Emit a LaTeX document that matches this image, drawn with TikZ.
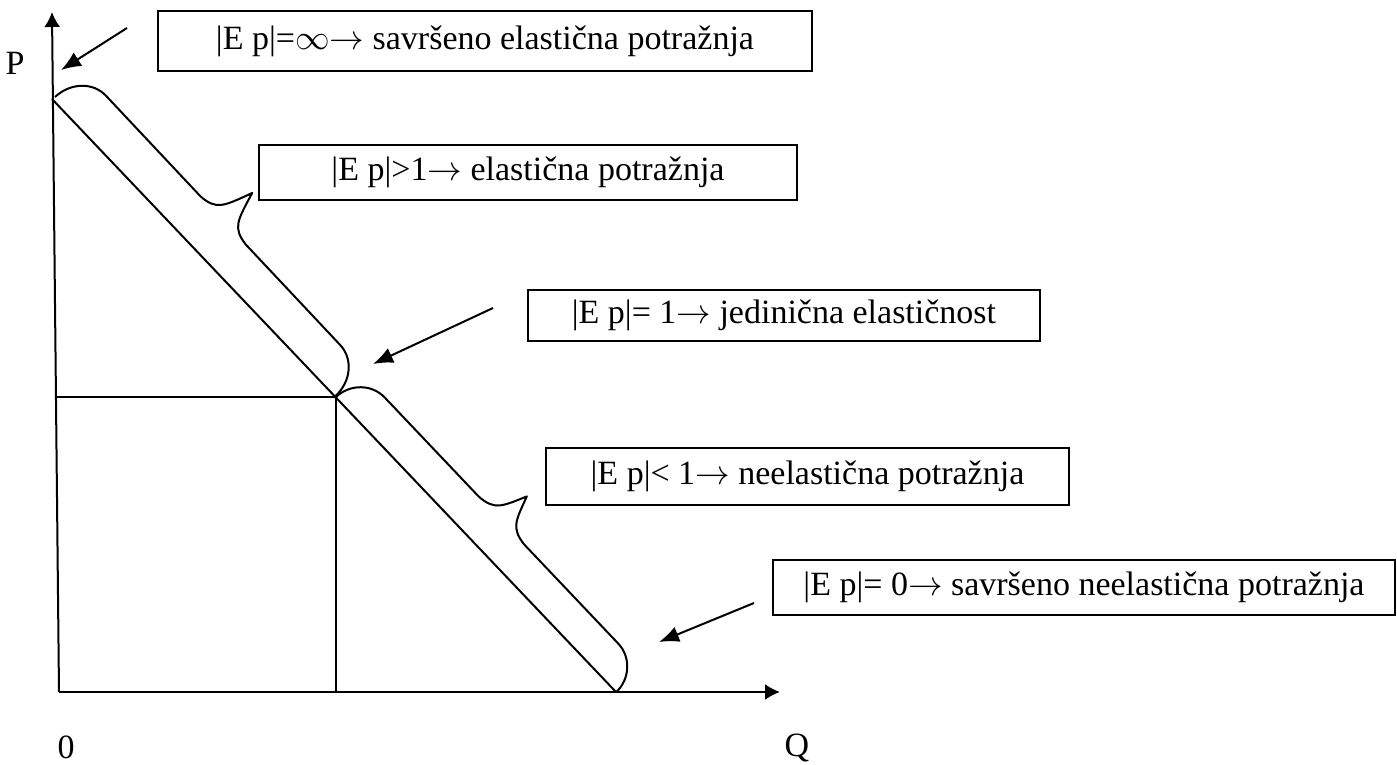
\documentclass[tikz,border=0pt]{standalone}
\usepackage{fontspec}
\setmainfont{Liberation Serif}
\usetikzlibrary{arrows.meta}
\newcommand{\myarr}{$\rightarrow$}
\newcommand{\myinf}{$\infty$}
\begin{document}
\begin{tikzpicture}[x=0.5pt,y=-0.5pt,line width=1pt,
  box/.style={draw,line width=1.2pt,inner sep=0pt,font=\fontsize{17pt}{20pt}\selectfont},
  lbl/.style={inner sep=0pt,font=\fontsize{17pt}{20pt}\selectfont},
  arr/.style={-{Latex[length=10pt,width=8pt]}},
  axis/.style={-{Latex[length=7.5pt,width=8pt]}},
  bracepath/.style={line width=1pt,line join=round}]
\useasboundingbox (0,0) rectangle (1397,765);

% axes
\coordinate (O) at (59,692);
\coordinate (Ytop) at (52,12);
\coordinate (Xend) at (780,692);
\draw[axis] (O) -- (Ytop);
\draw[axis] (O) -- (Xend);

% demand line and projections
\coordinate (D1) at (52,99);
\coordinate (D2) at (616,692);
\coordinate (E) at (336,397);
\coordinate (Ey) at (56,397);
\coordinate (Ex) at (336,692);
\draw (D1) -- (D2);
\draw (Ey) -- (E) -- (Ex);

% labels
\node[lbl] (P) at (15,63) {P};
\node[lbl] (zero) at (66,747) {0};
\node[lbl] (Q) at (797,748) {Q};

% boxes
\node[box,minimum width=327pt,minimum height=30pt] (b1) at (485,41) {|E p|=\myinf\myarr{} savršeno elastična potražnja};
\node[box,minimum width=269pt,minimum height=27.5pt] (b2) at (528,172.5) {|E p|>1\myarr{} elastična potražnja};
\node[box,minimum width=256pt,minimum height=25.5pt] (b3) at (784,315.5) {|E p|= 1\myarr{} jedinična elastičnost};
\node[box,minimum width=261.5pt,minimum height=28.5pt] (b4) at (807.5,476.5) {|E p|< 1\myarr{} neelastična potražnja};
\node[box,minimum width=311pt,minimum height=27.5pt] (b5) at (1084,587.5) {|E p|= 0\myarr{} savršeno neelastična potražnja};

% arrows
\coordinate (a1s) at (127,28); \coordinate (a1e) at (61,70);
\coordinate (a2s) at (493,308); \coordinate (a2e) at (373,364);
\coordinate (a3s) at (754,603); \coordinate (a3e) at (659,642);
\draw[arr] (a1s) -- (a1e);
\draw[arr] (a2s) -- (a2e);
\draw[arr] (a3s) -- (a3e);

% upper brace
\begin{scope}[shift={(55,97)},rotate=-46.78]
\draw[bracepath] (0,0) .. controls (0,-21) and (15,-38) .. (34,-38) -- (172,-38)
  .. controls (193,-40) and (195,-48) .. (205,-78)
  .. controls (215,-48) and (217,-40) .. (238,-38) -- (376,-38)
  .. controls (395,-38) and (410,-21) .. (410,0);
\end{scope}

% lower brace
\begin{scope}[shift={(336,397)},rotate=-46.5]
\draw[bracepath] (0,0) .. controls (0,-19) and (15,-35) .. (34,-35) -- (170.5,-35)
  .. controls (191.5,-37) and (193.5,-45) .. (203.5,-70)
  .. controls (213.5,-45) and (215.5,-37) .. (236.5,-35) -- (373,-35)
  .. controls (392,-35) and (407,-19) .. (407,0);
\end{scope}
\end{tikzpicture}
\end{document}
